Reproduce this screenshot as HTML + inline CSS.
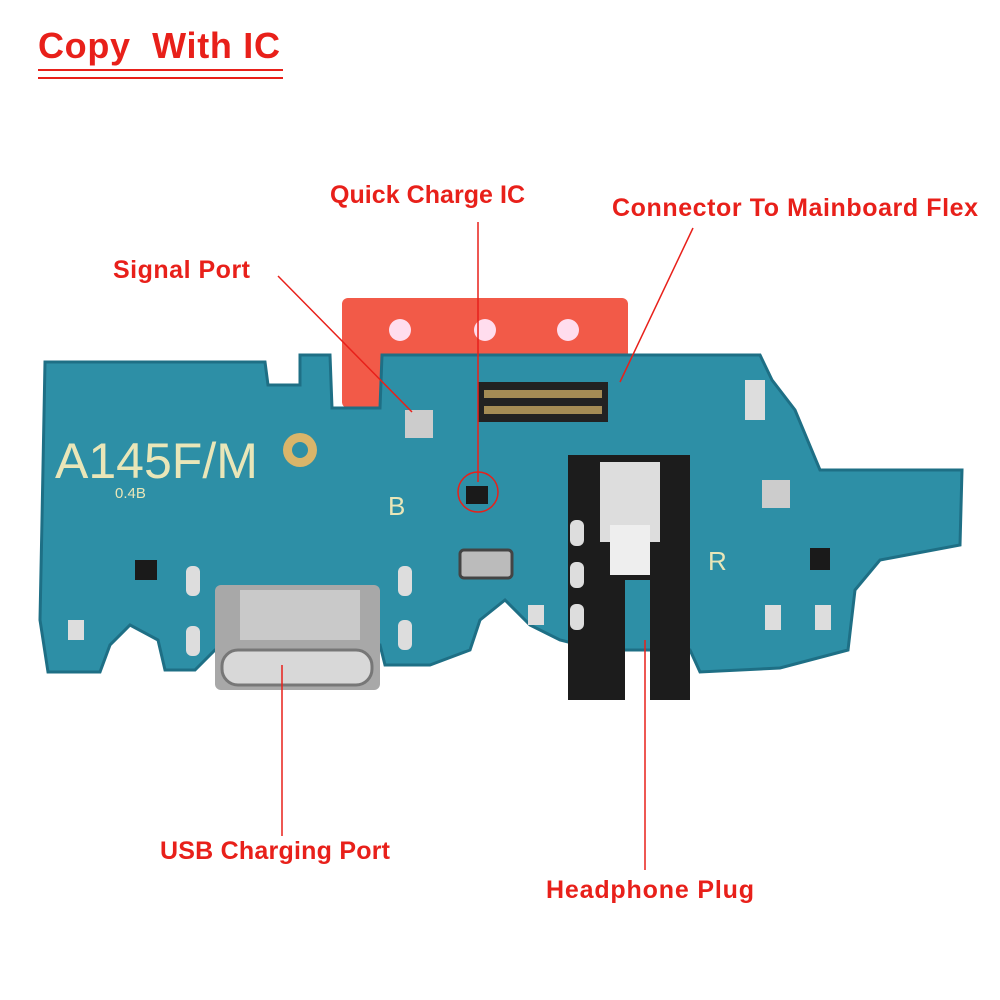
<!DOCTYPE html>
<html><head><meta charset="utf-8"><style>
body{margin:0;background:#fff;}
svg{display:block}
text{font-family:"Liberation Sans",sans-serif;}
</style></head><body>
<svg width="1000" height="1000" viewBox="0 0 1000 1000" xmlns="http://www.w3.org/2000/svg">
<rect width="1000" height="1000" fill="#fff"/>
<text x="38" y="58" font-size="36" font-weight="bold" fill="#e8201a" xml:space="preserve" textLength="242">Copy  With IC</text>
<line x1="38" y1="70" x2="283" y2="70" stroke="#e8201a" stroke-width="2"/>
<line x1="38" y1="78" x2="283" y2="78" stroke="#e8201a" stroke-width="2"/>

<rect x="342" y="298" width="286" height="110" rx="6" fill="#f25a48"/>
<circle cx="400" cy="330" r="11" fill="#fde"/>
<circle cx="485" cy="330" r="11" fill="#fde"/>
<circle cx="568" cy="330" r="11" fill="#fde"/>

<path id="b" d="M45,362 L265,362 L268,385 L300,385 L300,355 L330,355 L332,408 L380,408 L382,355 L760,355 L772,380 L795,410 L820,470 L962,470 L960,545 L880,560 L855,590 L848,650 L780,668 L700,672 L690,650 L600,650 L560,640 L530,625 L505,600 L480,620 L470,650 L430,665 L385,665 L380,645 L215,650 L195,670 L165,670 L158,640 L130,625 L110,645 L100,672 L48,672 L40,620 L42,520 Z" fill="#2d8fa6" stroke="#1e6f85" stroke-width="3"/>

<text x="55" y="478" font-size="50" fill="#e9e6b8">A145F/M</text>
<circle cx="300" cy="450" r="17" fill="#d9b56a"/>
<circle cx="300" cy="450" r="8" fill="#2d8fa6"/>
<text x="115" y="498" font-size="15" fill="#e9e6b8">0.4B</text>
<text x="388" y="515" font-size="26" fill="#e9e6b8">B</text>
<text x="708" y="570" font-size="26" fill="#e9e6b8">R</text>

<rect x="478" y="382" width="130" height="40" fill="#222"/>
<rect x="484" y="390" width="118" height="8" fill="#a58c55"/>
<rect x="484" y="406" width="118" height="8" fill="#a58c55"/>
<rect x="466" y="486" width="22" height="18" fill="#1a1a1a"/>
<rect x="460" y="550" width="52" height="28" rx="4" fill="#bbb" stroke="#444" stroke-width="3"/>
<rect x="405" y="410" width="28" height="28" fill="#ccc"/>
<rect x="762" y="480" width="28" height="28" fill="#ccc"/>
<rect x="745" y="380" width="20" height="40" fill="#ddd"/>
<path d="M568,455 L690,455 L690,700 L650,700 L650,580 L625,580 L625,700 L568,700 Z" fill="#1c1c1c"/>
<rect x="600" y="462" width="60" height="80" fill="#ddd"/>
<rect x="610" y="525" width="40" height="50" fill="#eee"/>
<rect x="215" y="585" width="165" height="105" rx="6" fill="#a8a8a8"/>
<rect x="222" y="650" width="150" height="35" rx="16" fill="#d8d8d8" stroke="#777" stroke-width="3"/>
<rect x="240" y="590" width="120" height="50" fill="#c9c9c9"/>
<g fill="#ddd">
<rect x="186" y="566" width="14" height="30" rx="6"/><rect x="186" y="626" width="14" height="30" rx="6"/>
<rect x="398" y="566" width="14" height="30" rx="6"/><rect x="398" y="620" width="14" height="30" rx="6"/>
<rect x="570" y="520" width="14" height="26" rx="6"/><rect x="570" y="562" width="14" height="26" rx="6"/><rect x="570" y="604" width="14" height="26" rx="6"/>
<rect x="68" y="620" width="16" height="20"/><rect x="528" y="605" width="16" height="20"/>
<rect x="765" y="605" width="16" height="25"/><rect x="815" y="605" width="16" height="25"/>
</g>
<rect x="135" y="560" width="22" height="20" fill="#1a1a1a"/>
<rect x="810" y="548" width="20" height="22" fill="#1a1a1a"/>

<g stroke="#e8201a" stroke-width="1.5">
<line x1="278" y1="276" x2="412" y2="412"/>
<line x1="478" y1="222" x2="478" y2="482"/>
<line x1="693" y1="228" x2="620" y2="382"/>
<line x1="282" y1="665" x2="282" y2="836"/>
<line x1="645" y1="640" x2="645" y2="870"/>
</g>
<circle cx="478" cy="492" r="20" fill="none" stroke="#e8201a" stroke-width="1.5"/>

<g font-size="25" font-weight="bold" fill="#e8201a">
<text x="330" y="203" textLength="195">Quick Charge IC</text>
<text x="612" y="216" textLength="366">Connector To Mainboard Flex</text>
<text x="113" y="278" textLength="137">Signal Port</text>
<text x="160" y="859" textLength="230">USB Charging Port</text>
<text x="546" y="898" textLength="208">Headphone Plug</text>
</g>
</svg>
</body></html>
